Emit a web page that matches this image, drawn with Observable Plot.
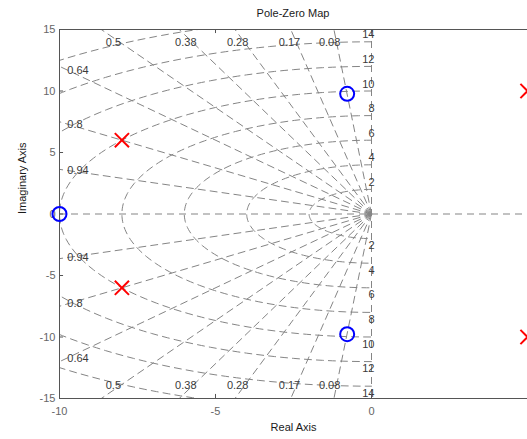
<!DOCTYPE html>
<html><head><meta charset="utf-8">
<script src="https://cdn.jsdelivr.net/npm/d3@7"></script>
<script src="https://cdn.jsdelivr.net/npm/@observablehq/plot@0.6"></script>
<style>
body{margin:0;background:#fff;font-family:"Liberation Sans",Arial,sans-serif;}
#title{height:22px;width:527px;box-sizing:border-box;padding-left:59px;text-align:center;font-size:11px;line-height:26px;color:#1a1a1a;}
</style></head><body>
<div id="title">Pole-Zero Map</div>
<div id="chart"></div>
<script>
// Zeros (o) and poles (x)
const zeroRe = [-10, -0.78, -0.78];
const zeroIm = [0, 9.77, -9.77];
const poleRe = [-8, -8, 5, 5];
const poleIm = [6, -6, 10, -10];

// sgrid: damping ratios and natural frequencies
const zetas = [0.08, 0.17, 0.28, 0.38, 0.5, 0.64, 0.8, 0.94];
const zetaLabels = ["0.08", "0.17", "0.28", "0.38", "0.5", "0.64", "0.8", "0.94"];
const wnRadii = [2, 4, 6, 8, 10, 12, 14, 16];
const wnLabels = ["2", "4", "6", "8", "10", "12", "14"];

// axis ticks
const xTicks = [-10, -5, 0];
const yTicks = [-15, -10, -5, 0, 5, 10, 15];
const xDomain = [-10, 5];
const yDomain = [-15, 15];

const zeros = zeroRe.map((x, i) => ({x, y: zeroIm[i]}));
const poles = poleRe.map((x, i) => ({x, y: poleIm[i]}));

// damping rays from origin
const R = 40;
const rays = [];
zetas.forEach((z, i) => {
  const s = Math.sqrt(1 - z * z);
  [1, -1].forEach(sg => {
    rays.push({k: i + "_" + sg, x: 0, y: 0});
    rays.push({k: i + "_" + sg, x: -R * z, y: sg * R * s});
  });
});

// natural-frequency arcs (left half plane)
const arcs = [];
wnRadii.forEach(r => {
  for (let a = 90; a <= 270; a += 1.5) {
    const t = a * Math.PI / 180;
    arcs.push({r, x: r * Math.cos(t), y: r * Math.sin(t)});
  }
});

// damping labels: at top/bottom edge or left edge
const labelYTop = 13.94;
const labelXLeft = -9.75;
const zLabTop = [], zLabLeft = [];
zetas.forEach((z, i) => {
  const s = Math.sqrt(1 - z * z);
  const yAtLeft = 10 * s / z;
  if (yAtLeft > 15) {
    const x = -labelYTop * z / s;
    zLabTop.push({x, y: labelYTop, t: zetaLabels[i]});
    zLabTop.push({x, y: -labelYTop, t: zetaLabels[i]});
  } else {
    const y = -labelXLeft * s / z;
    zLabLeft.push({x: labelXLeft, y, t: zetaLabels[i]});
    zLabLeft.push({x: labelXLeft, y: -y, t: zetaLabels[i]});
  }
});
const wnUp = wnLabels.map(t => ({x: 0, y: +t, t}));
const wnDown = wnLabels.map(t => ({x: 0, y: -t, t}));

const gridStroke = "#858585";
const dash = "7,5";
const frameColor = "#555";
const labColor = "#3a3a3a";

const chart = Plot.plot({
  width: 527,
  height: 417,
  marginTop: 7,
  marginBottom: 41,
  marginLeft: 59,
  marginRight: 0,
  style: {fontFamily: "Liberation Sans, Arial, sans-serif", fontSize: "11px", color: "#666", background: "#fff"},
  x: {domain: xDomain},
  y: {domain: yDomain},
  marks: [
    Plot.line(arcs, {x: "x", y: "y", z: "r", stroke: gridStroke, strokeWidth: 1, strokeDasharray: dash, clip: true}),
    Plot.line(rays, {x: "x", y: "y", z: "k", stroke: gridStroke, strokeWidth: 1, strokeDasharray: dash, clip: true}),
    Plot.ruleX([0], {stroke: gridStroke, strokeWidth: 1, strokeDasharray: dash}),
    Plot.ruleY([0], {stroke: gridStroke, strokeWidth: 1, strokeDasharray: dash}),
    Plot.text(zLabTop, {x: "x", y: "y", text: "t", dx: -7, fill: labColor}),
    Plot.text(zLabLeft, {x: "x", y: "y", text: "t", textAnchor: "start", fill: labColor}),
    Plot.text(wnUp, {x: "x", y: "y", text: "t", textAnchor: "end", dx: 3, dy: -7, fill: labColor}),
    Plot.text(wnDown, {x: "x", y: "y", text: "t", textAnchor: "end", dx: 3, dy: 7, fill: labColor}),
    // frame
    Plot.ruleX([xDomain[0]], {stroke: frameColor}),
    Plot.ruleY(yDomain, {stroke: frameColor}),
    // inward ticks
    Plot.ruleX(xTicks, {y1: yDomain[1], y2: yDomain[1] - 0.33, stroke: frameColor}),
    Plot.ruleX(xTicks, {y1: yDomain[0], y2: yDomain[0] + 0.33, stroke: frameColor}),
    Plot.ruleY(yTicks, {x1: xDomain[0], x2: xDomain[0] + 0.13, stroke: frameColor}),
    Plot.axisX({ticks: xTicks, tickSize: 0, tickPadding: 9, tickFormat: d => String(d), label: null}),
    Plot.axisY({ticks: yTicks, tickSize: 0, tickPadding: 4, tickFormat: d => String(d), label: null}),
    Plot.text(["Real Axis"], {text: d => d, frameAnchor: "bottom", dy: 32, fill: "#1a1a1a"}),
    Plot.text(["Imaginary Axis"], {text: d => d, frameAnchor: "left", dx: -37, rotate: -90, fill: "#1a1a1a"}),
    // markers
    Plot.dot(zeros, {x: "x", y: "y", r: 7, stroke: "#0000ff", strokeWidth: 2, fill: "none"}),
    Plot.dot(poles, {x: "x", y: "y", symbol: "times", r: 6.5, stroke: "#ff0000", strokeWidth: 2})
  ]
});
document.getElementById("chart").appendChild(chart);
</script></body></html>
